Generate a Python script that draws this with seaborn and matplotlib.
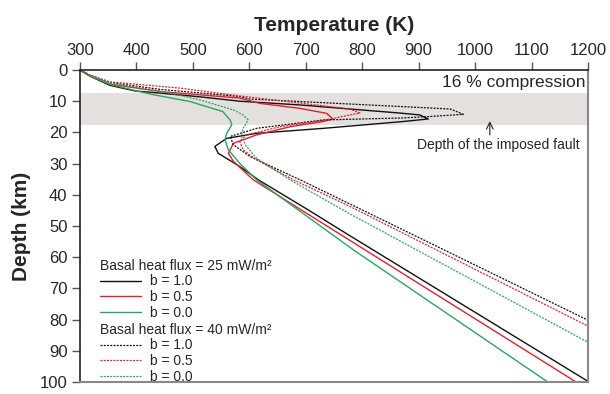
import matplotlib
matplotlib.use('Agg')
import matplotlib.pyplot as plt
import seaborn as sns

# basal heat flux 25 mW/m2
temp_25_b10 = [300, 318, 353, 397, 442, 513, 583, 690, 778, 867, 902, 917, 867, 731, 613, 560, 539, 545, 583, 616, 704, 778, 1200]
depth_25_b10 = [0, 2.0, 4.9, 6.7, 7.4, 8.6, 10.0, 11.2, 12.5, 13.8, 14.4, 15.7, 16.6, 18.7, 20.3, 21.9, 24.5, 26.7, 30.9, 35.2, 44.8, 53.1, 99.8]

temp_25_b05 = [300, 318, 353, 442, 583, 619, 690, 737, 748, 731, 672, 613, 572, 563, 572, 607, 778, 1177]
depth_25_b05 = [0, 1.9, 4.5, 6.9, 9.0, 10.7, 12.3, 13.9, 15.7, 16.5, 18.2, 20.8, 23.5, 26.7, 29.3, 35.2, 54.6, 99.8]

temp_25_b00 = [300, 318, 353, 424, 495, 553, 566, 569, 560, 557, 563, 583, 613, 784, 1127]
depth_25_b00 = [0, 1.9, 4.6, 7.7, 10.1, 13.3, 16.0, 17.6, 20.3, 22.4, 25.6, 29.9, 35.2, 57.6, 99.8]

# basal heat flux 40 mW/m2
temp_40_b10 = [300, 318, 353, 442, 583, 601, 778, 956, 979, 920, 867, 731, 613, 566, 572, 601, 690, 778, 1200]
depth_40_b10 = [0, 1.7, 4.0, 6.2, 8.5, 9.3, 10.9, 12.5, 14.2, 14.9, 15.4, 16.0, 18.7, 21.3, 24.0, 27.7, 35.2, 42.9, 80.2]

temp_40_b05 = [300, 318, 353, 477, 583, 690, 778, 796, 778, 731, 654, 595, 583, 589, 613, 678, 778, 1200]
depth_40_b05 = [0, 1.6, 3.8, 5.8, 8.3, 10.6, 12.5, 13.8, 14.4, 16.2, 18.2, 20.8, 22.9, 25.6, 28.8, 35.2, 43.7, 82.1]

temp_40_b00 = [300, 318, 353, 442, 513, 572, 589, 598, 589, 586, 595, 613, 672, 778, 1200]
depth_40_b00 = [0, 1.8, 4.2, 6.7, 9.6, 12.8, 14.4, 16.0, 18.7, 21.3, 24.5, 28.3, 35.2, 46.1, 87.3]

fault_top, fault_bottom = 7.5, 17.5
b_labels = ['b = 1.0', 'b = 0.5', 'b = 0.0']

series_25 = [(temp_25_b10, depth_25_b10), (temp_25_b05, depth_25_b05), (temp_25_b00, depth_25_b00)]
series_40 = [(temp_40_b10, depth_40_b10), (temp_40_b05, depth_40_b05), (temp_40_b00, depth_40_b00)]
colors = ['#111111', '#e3202c', '#2aa566']

sns.set_theme(style='white')
plt.rcParams['font.family'] = ['Liberation Sans', 'DejaVu Sans']

fig = plt.figure(figsize=(6.1, 3.94), dpi=100)
ax = fig.add_axes([0.131, 0.0305, 0.833, 0.7918])

ax.axhspan(fault_top, fault_bottom, color='#e4e0de', lw=0, zorder=0)

for (t, d), c, lab in zip(series_25, colors, b_labels):
    sns.lineplot(x=t, y=d, orient='y', sort=True, color=c, lw=1.0, label=lab, ax=ax)
for (t, d), c, lab in zip(series_40, colors, b_labels):
    sns.lineplot(x=t, y=d, orient='y', sort=True, color=c, lw=0.9, ls=(0, (1.6, 1)), label=lab, ax=ax)

ax.set_xlim(300, 1200)
ax.set_ylim(100, 0)
ax.set_xticks(range(300, 1201, 100))
ax.set_yticks(range(0, 101, 10))
ax.xaxis.tick_top()
ax.xaxis.set_label_position('top')
ax.tick_params(axis='x', top=True, bottom=False, direction='out', length=6, width=1, labelsize=12, pad=3, color='#555555')
ax.tick_params(axis='y', left=True, direction='out', length=6, width=1, labelsize=12, pad=3, color='#555555')
ax.set_xlabel('Temperature (K)', fontsize=15, fontweight='bold', labelpad=8)
ax.set_ylabel('Depth (km)', fontsize=15, fontweight='bold', labelpad=6)

for side in ['left', 'top']:
    ax.spines[side].set_color('#222222')
    ax.spines[side].set_linewidth(1.2)
for side in ['right', 'bottom']:
    ax.spines[side].set_color('#888888')
    ax.spines[side].set_linewidth(1.5)

ax.text(0.995, 0.985, '16 % compression', transform=ax.transAxes, ha='right', va='top', fontsize=12.5)
ax.annotate('', xy=(1026, 16.4), xytext=(1026, 20.8),
            arrowprops=dict(arrowstyle='->', lw=0.8, color='#222222', shrinkA=0, shrinkB=0))
ax.text(1041, 24, 'Depth of the imposed fault', ha='center', va='center', fontsize=10)

handles, labels = ax.get_legend_handles_labels()
ax.get_legend().remove()
leg_kw = dict(loc='upper left', frameon=False, fontsize=10, title_fontsize=10, handlelength=3.0,
              handletextpad=0.6, labelspacing=0.12, borderpad=0, borderaxespad=0, alignment='left')
leg1 = ax.legend(handles[:3], labels[:3], title='Basal heat flux = 25 mW/m²',
                 bbox_to_anchor=(0.039, 0.395), **leg_kw)
ax.add_artist(leg1)
ax.legend(handles[3:], labels[3:], title='Basal heat flux = 40 mW/m²',
          bbox_to_anchor=(0.039, 0.19), **leg_kw)

fig.savefig('out.png', dpi=100)
